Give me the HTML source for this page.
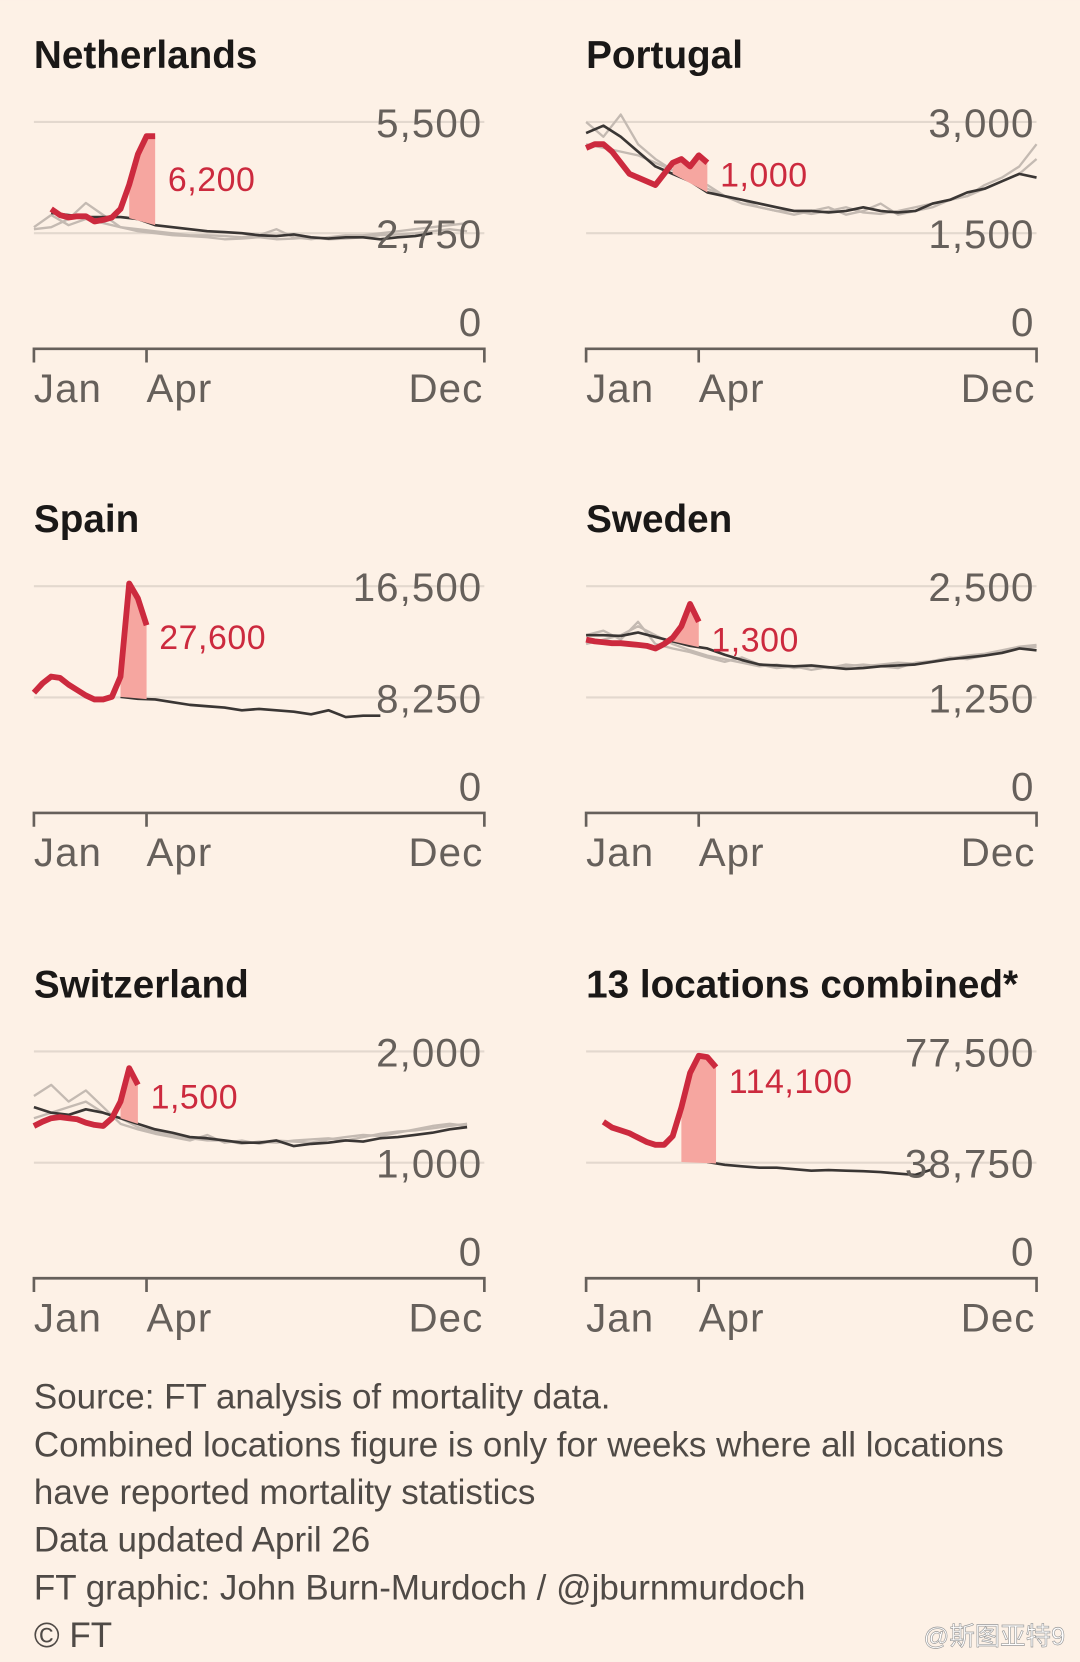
<!DOCTYPE html>
<html><head><meta charset="utf-8"><style>
html,body{margin:0;padding:0;background:#fdf1e6;}
svg{display:block}
text{font-family:"Liberation Sans",sans-serif}
</style></head><body>
<svg id="c" width="1080" height="1662" viewBox="0 0 1019 1568" xmlns="http://www.w3.org/2000/svg">
<rect width="1019" height="1568" fill="#fdf1e6"/>
<g id="footer" font-size="33" fill="#4f4a46">
<text x="32" y="1329">Source: FT analysis of mortality data.</text>
<text x="32" y="1374">Combined locations figure is only for weeks where all locations</text>
<text x="32" y="1419">have reported mortality statistics</text>
<text x="32" y="1464">Data updated April 26</text>
<text x="32" y="1509">FT graphic: John Burn-Murdoch / @jburnmurdoch</text>
<text x="32" y="1554">© FT</text>
</g>
<text x="1005" y="1552" text-anchor="end" font-size="24" fill="#ffffff" stroke="#999" stroke-width="0.6" style="font-family:'Liberation Sans','Noto Sans CJK SC',sans-serif">@斯图亚特9</text>
</svg>
<script>
const titles = ["Netherlands","Portugal","Spain","Sweden","Switzerland","13 locations combined*"];
const maxVals = [5500,3000,16500,2500,2000,77500];
const tickLabels = [["5,500","2,750","0"],["3,000","1,500","0"],["16,500","8,250","0"],["2,500","1,250","0"],["2,000","1,000","0"],["77,500","38,750","0"]];
const excessLabels = ["6,200","1,000","27,600","1,300","1,500","114,100"];
const monthLabels = ["Jan","Apr","Dec"];
const monthWeeks = [0,13,52];
const redStart = [2,0,0,0,0,2];
const redValues = [
 [3350,3200,3140,3170,3170,3040,3080,3140,3350,3950,4700,5150,5150],
 [2650,2700,2700,2600,2450,2300,2250,2200,2150,2300,2450,2500,2400,2550,2450],
 [8600,9300,9800,9700,9200,8800,8400,8100,8100,8300,9800,16700,15600,13600],
 [1900,1880,1870,1860,1860,1850,1840,1830,1800,1850,1920,2050,2300,2100],
 [1330,1370,1400,1410,1400,1390,1360,1340,1330,1400,1550,1850,1700],
 [53000,51000,50000,49000,47500,46000,45000,45000,48000,58000,70000,76000,75500,72000]
];
const fillStart = [11,10,10,10,10,11];
const blackStart = [2,0,10,0,0,14];
const blackValues = [
 [3250,3200,3150,3150,3150,3100,2950,2900,2850,2800,2780,2750,2700,2680,2720,2650,2620,2650,2650,2600,2650,2680,2750],
 [2850,2950,2800,2600,2400,2300,2200,2050,2000,1950,1900,1850,1800,1800,1780,1800,1850,1800,1780,1800,1900,1950,2050,2100,2200,2300,2250],
 [8300,8150,8100,7900,7700,7600,7500,7300,7400,7300,7200,7000,7300,6800,6900,6900],
 [1950,1950,1940,1980,1930,1880,1830,1800,1730,1670,1620,1610,1600,1610,1590,1570,1580,1600,1610,1620,1650,1680,1700,1720,1750,1800,1780],
 [1500,1450,1430,1480,1450,1400,1350,1300,1270,1230,1220,1200,1180,1180,1200,1150,1170,1180,1200,1190,1220,1230,1250,1270,1300,1320],
 [39000,38000,37500,37000,37000,36500,36000,36200,36000,35800,35500,35000,34500,36500]
];
const greyA = [
 [2900,3200,2950,3100,3000,2900,2850,2800,2750,2700,2700,2680,2650,2700,2850,2650,2600,2650,2700,2700,2750,2800,2850,2900,2950,3000],
 [3000,2800,3100,2700,2500,2350,2200,2100,2000,1950,1850,1800,1750,1800,1850,1750,1800,1900,1750,1800,1850,1950,2000,2150,2250,2400,2700],
 [],
 [1950,2000,1900,2100,1850,1800,1760,1700,1650,1700,1620,1580,1600,1560,1590,1600,1620,1600,1580,1640,1660,1700,1680,1720,1760,1800,1820],
 [1600,1700,1550,1650,1500,1350,1300,1260,1230,1200,1250,1180,1200,1170,1200,1190,1180,1210,1230,1250,1240,1270,1300,1330,1350,1330],
 []
];
const greyB = [
 [2850,2900,3100,3500,3200,2900,2800,2750,2700,2680,2650,2600,2620,2650,2600,2620,2650,2600,2620,2650,2700,2720,2750,2800,2850,2800],
 [2700,2650,2600,2550,2450,2350,2250,2150,2000,1900,1850,1800,1800,1760,1800,1850,1780,1760,1800,1850,1900,1950,2000,2100,2200,2300,2500],
 [],
 [1850,1900,1950,2050,1950,1850,1780,1720,1680,1640,1600,1620,1580,1600,1580,1620,1600,1620,1640,1630,1660,1690,1720,1740,1780,1820,1840],
 [1400,1450,1500,1550,1450,1400,1320,1280,1250,1220,1200,1200,1170,1190,1180,1200,1210,1220,1200,1230,1260,1280,1290,1310,1330,1350],
 []
];
const panelX = [32,553,32,553,32,553];
const panelY = [0,0,438,438,877,877];
const W = 425, H = 210;
const svg = document.getElementById('c');
const NS = 'http://www.w3.org/2000/svg';
function mk(tag, attrs, parent, txt){
  const e = document.createElementNS(NS, tag);
  for (const k in attrs) e.setAttribute(k, attrs[k]);
  if (txt !== undefined) e.textContent = txt;
  parent.appendChild(e); return e;
}
function lineD(pts){ return pts.map((p,i)=>(i?'L':'M')+p[0].toFixed(1)+','+p[1].toFixed(1)).join(''); }
for (let p=0;p<6;p++){
  const ox = panelX[p], oy = panelY[p];
  const top = oy+115, zero = top+H;
  const xs = w => ox + w/52*W;
  const ys = v => zero - v/maxVals[p]*H;
  const g = mk('g',{},svg);
  
  
  const t = mk('text',{x:ox,y:oy+64,'font-size':36.5,'font-weight':'bold',fill:'#1a1817'},g,titles[p]);
  
  
  [maxVals[p], maxVals[p]/2].forEach(v=>{
    const gl = mk('line',{x1:ox,x2:ox+W,y1:ys(v),y2:ys(v),stroke:'#e3d8ce','stroke-width':2},g);
    
    
  });
  const ser = (start, vals, step) => vals.map((v,i)=>[xs(start+i*step), ys(v)]);
  [greyA[p], greyB[p]].forEach(arr=>{
    if(!arr.length) return;
    const l = mk('path',{d:lineD(ser(0,arr,2)),fill:'none',stroke:'#c4bab2','stroke-width':2.2,'stroke-linejoin':'round'},g);
    
    
  });
  const bpts = ser(blackStart[p], blackValues[p], 2);
  const bl = mk('path',{d:lineD(bpts),fill:'none',stroke:'#3a3634','stroke-width':2.5,'stroke-linejoin':'round'},g);
  
  
  const rv = redValues[p], rs = redStart[p];
  const fs = fillStart[p];
  const fpts = [];
  for (let i=0;i<rv.length;i++){ const w=rs+i; if (w>=fs) fpts.push([xs(w),ys(rv[i])]); }
  const bv = w => {
    const bs = blackStart[p], arr = blackValues[p];
    let idx = (w-bs)/2; if (idx<0) idx=0; if (idx>arr.length-1) idx=arr.length-1;
    const i0=Math.floor(idx), i1=Math.min(arr.length-1,i0+1), f=idx-i0;
    return arr[i0]*(1-f)+arr[i1]*f;
  };
  const lastW = rs+rv.length-1;
  fpts.push([xs(lastW), ys(bv(lastW))]);
  fpts.push([xs(fs), ys(bv(fs))]);
  const fl = mk('path',{d:lineD(fpts)+'Z',fill:'#f6a6a0',stroke:'none'},g);
  
  
  const rl = mk('path',{d:lineD(ser(rs,rv,1)),fill:'none',stroke:'#cc2a3e','stroke-width':5.5,'stroke-linejoin':'round'},g);
  
  
  const el = mk('text',{x:xs(lastW)+12,y:ys(Math.max(...rv))+ (p==1?40:p==3?45:p==4?38:p==5?35:(p==2?62:52)),'font-size':32,fill:'#cc2a3e','letter-spacing':0.5},g,excessLabels[p]);
  
  
  [maxVals[p], maxVals[p]/2, 0].forEach((v,i)=>{
    const ty = i==2 ? zero-8 : ys(v)+14;
    const tl = mk('text',{x:ox+W-2,y:ty,'text-anchor':'end','font-size':38,'letter-spacing':1,fill:'#66605b'},g,tickLabels[p][i]);
    
    
  });
  const ax = mk('path',{d:`M${ox},${zero+17}V${zero+4}H${ox+W}V${zero+17}M${xs(13)},${zero+4}V${zero+17}`,fill:'none',stroke:'#66605b','stroke-width':2.5},g);
  
  
  monthLabels.forEach((m,i)=>{
    const anchor = i==2?'end':'start';
    const xl = mk('text',{x:xs(monthWeeks[i])+(i==2?-1:0),y:zero+54,'text-anchor':anchor,'font-size':38,'letter-spacing':1,fill:'#66605b'},g,m);
    
    
  });
}
</script>
</body></html>
